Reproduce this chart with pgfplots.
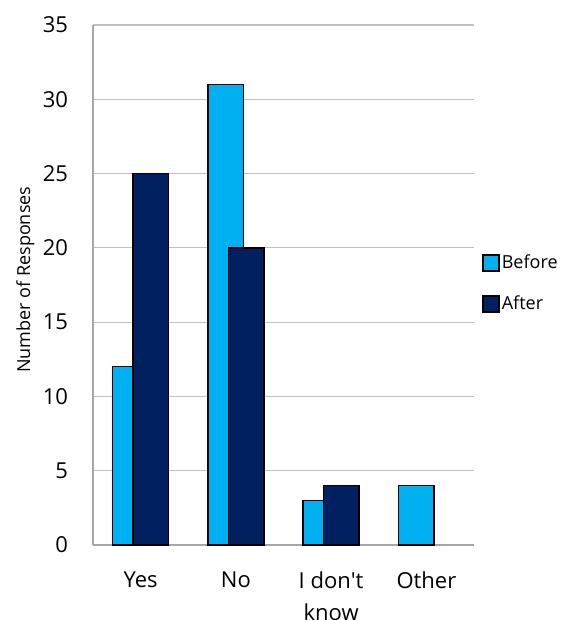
\documentclass[border=0pt]{standalone}
\usepackage{fontspec}
\setmainfont{Open Sans}
\usepackage{pgfplots}
\pgfplotsset{compat=1.18}
\definecolor{before}{HTML}{00B0F0}
\definecolor{after}{HTML}{002060}
\definecolor{gridc}{HTML}{BFBFBF}
\definecolor{axisc}{HTML}{A6A6A6}
\pgfplotsset{sqleg/.style={legend image code/.code={\draw[##1, line width=0.7pt, bar shift=0pt] (0pt,-4pt) rectangle (8pt,4pt);}}}
\begin{document}
\begin{tikzpicture}
\path[use as bounding box] (-46.5pt,-37.5pt) rectangle (234pt,272.5pt);
\begin{axis}[
  at={(0,0)}, anchor=south west,
  scale only axis, width=190.5pt, height=260pt,
  xmin=-0.5, xmax=3.5, ymin=0, ymax=35,
  axis x line*=bottom, axis y line*=left,
  axis line style={axisc, line width=0.6pt},
  ymajorgrids, grid style={gridc, line width=0.6pt},
  ytick={0,5,...,35},
  xtick={0,1,2,3},
  xticklabels={Yes,No,{I don\textquotesingle t\\know},Other},
  major tick length=0pt,
  /pgf/number format/assume math mode=true,
  tick label style={font=\fontsize{11}{16}\selectfont},
  xticklabel style={align=center, yshift=-10pt},
  yticklabel style={xshift=-9pt},
  ylabel={Number of Responses},
  ylabel style={font=\fontsize{9}{11}\selectfont, at={(axis description cs:-0.135,0.51)}, anchor=south},
  legend style={draw=none, fill=none, at={(axis description cs:1,0.503)}, anchor=west, xshift=4pt,
    font=\fontsize{9}{11}\selectfont, row sep=10pt, inner sep=0pt,
    nodes={inner sep=1pt}},
  legend cell align=left,
  ybar, bar width=0.374,
  clip=false,
]
\addplot[fill=before, draw=black, line width=0.75pt, bar shift=-0.107, sqleg] coordinates {(0,12) (1,31) (2,3) (3,4)};
\addlegendentry{Before}
\addplot[fill=after, draw=black, line width=0.75pt, bar shift=0.107, sqleg] coordinates {(0,25) (1,20) (2,4)};
\addlegendentry{After}
\end{axis}
\end{tikzpicture}
\end{document}
